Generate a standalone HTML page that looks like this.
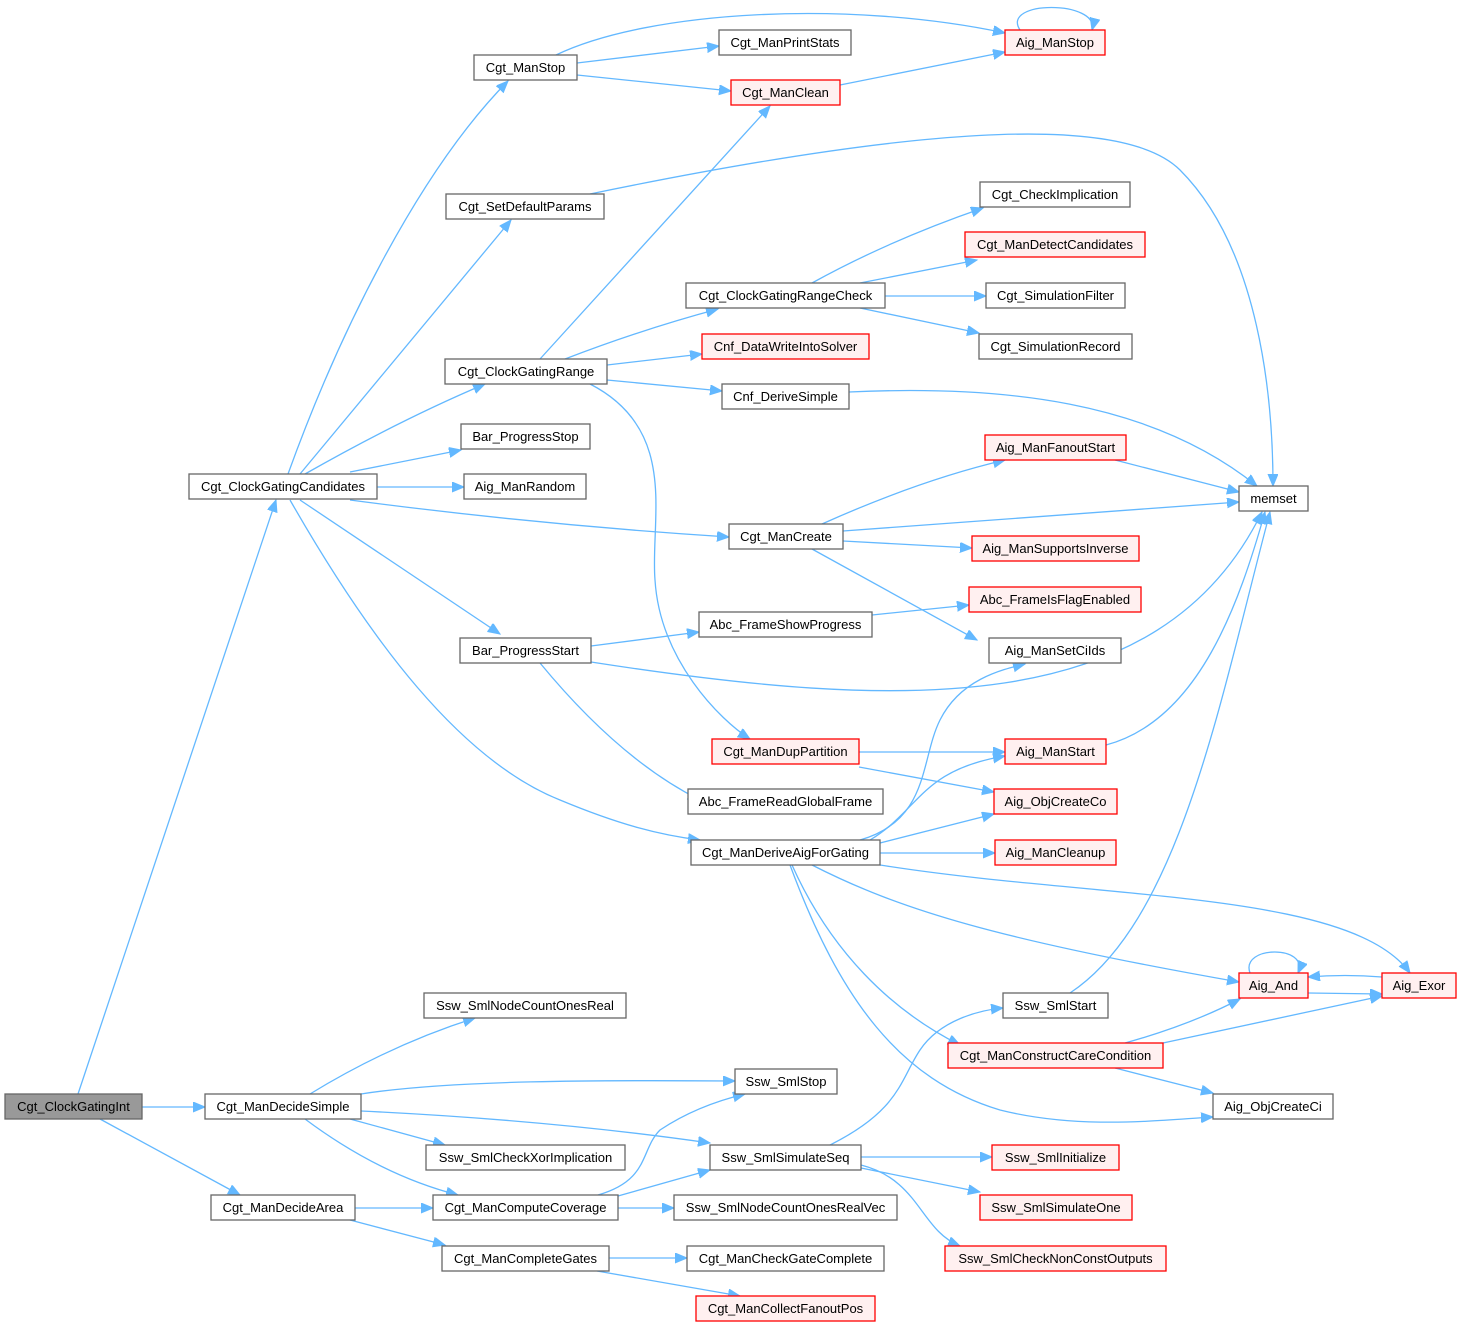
<!DOCTYPE html>
<html><head><meta charset="utf-8"><style>
html,body{margin:0;padding:0;background:#fff;}
svg{display:block;}
text{font-family:"Liberation Sans",Arial,sans-serif;font-size:13px;fill:#000;}
.n{fill:#fff;stroke:#666;stroke-width:1.3;}
.r{fill:#fff0f0;stroke:#f00;stroke-width:1.3;}
.g{fill:#999;stroke:#666;stroke-width:1.3;}
path{fill:none;stroke:#63b8ff;stroke-width:1.3;}
</style></head><body>
<svg width="1461" height="1328" viewBox="0 0 1461 1328" xmlns="http://www.w3.org/2000/svg">
<defs><marker id="a" markerUnits="userSpaceOnUse" markerWidth="14" markerHeight="12" refX="12" refY="5" orient="auto"><polygon points="0,0 12,5 0,10" fill="#63b8ff" stroke="#63b8ff"/></marker></defs>
<g marker-end="url(#a)">
<path d="M78,1094 L276,500"/>
<path d="M142,1107 L205,1107"/>
<path d="M100,1119 L240,1195"/>
<path d="M288,474 C340,330 420,170 508,81"/>
<path d="M300,474 L511,220"/>
<path d="M305,474 Q400,420 485,384"/>
<path d="M350,472 L461,450"/>
<path d="M377,487 L464,487"/>
<path d="M350,500 Q540,525 729,537"/>
<path d="M300,500 L500,634"/>
<path d="M290,500 C370,640 460,760 560,800 C620,825 660,835 700,840"/>
<path d="M556,55 C650,10 850,0 1005,33"/>
<path d="M577,63 L719,46"/>
<path d="M577,75 L731,91"/>
<path d="M840,85 L1005,52"/>
<path d="M1020,30 C1000,0 1100,0 1092,30"/>
<path d="M590,194 C900,130 1120,110 1180,170 C1260,250 1273,400 1273,486"/>
<path d="M540,359 L770,106"/>
<path d="M565,359 Q640,330 718,309"/>
<path d="M607,365 L702,354"/>
<path d="M607,380 L722,391"/>
<path d="M590,384 C680,430 650,520 655,580 C660,660 720,720 750,739"/>
<path d="M812,283 Q890,240 983,208"/>
<path d="M860,283 L977,260"/>
<path d="M885,296 L986,296"/>
<path d="M860,308 L979,333"/>
<path d="M849,392 C1000,385 1150,400 1257,486"/>
<path d="M1115,460 L1239,492"/>
<path d="M843,531 L1239,502"/>
<path d="M822,524 Q920,480 1005,460"/>
<path d="M843,541 L972,548"/>
<path d="M812,549 L977,640"/>
<path d="M591,646 L699,632"/>
<path d="M872,615 L969,605"/>
<path d="M591,662 C900,710 1160,720 1262,512"/>
<path d="M540,663 Q620,760 700,800"/>
<path d="M859,752 L1005,752"/>
<path d="M859,767 L994,792"/>
<path d="M1106,745 C1200,720 1240,600 1265,512"/>
<path d="M860,840 C930,820 920,760 940,720 C960,680 1000,670 1025,664"/>
<path d="M870,840 C920,810 920,770 1005,756"/>
<path d="M880,843 L994,814"/>
<path d="M880,853 L995,853"/>
<path d="M880,865 C1100,900 1350,890 1410,973"/>
<path d="M812,865 C900,910 1000,940 1239,982"/>
<path d="M792,865 C830,950 890,1010 960,1045"/>
<path d="M790,865 C840,1000 900,1080 1000,1110 C1080,1130 1160,1120 1213,1117"/>
<path d="M1125,1043 Q1190,1025 1240,999"/>
<path d="M1163,1043 L1382,996"/>
<path d="M1115,1068 L1213,1093"/>
<path d="M1308,993 L1382,994"/>
<path d="M1382,977 Q1345,974 1308,977"/>
<path d="M1250,973 C1240,945 1310,945 1298,973"/>
<path d="M1070,993 C1180,920 1220,700 1270,512"/>
<path d="M310,1094 Q390,1045 475,1018"/>
<path d="M361,1094 C450,1080 600,1080 735,1081"/>
<path d="M361,1111 Q550,1120 710,1143"/>
<path d="M350,1119 L445,1145"/>
<path d="M305,1119 Q380,1175 458,1195"/>
<path d="M355,1208 L433,1208"/>
<path d="M350,1220 L445,1245"/>
<path d="M598,1195 C650,1180 640,1150 660,1130 C690,1110 720,1100 745,1094"/>
<path d="M618,1196 L710,1170"/>
<path d="M618,1208 L674,1208"/>
<path d="M609,1258 L687,1258"/>
<path d="M597,1271 L740,1296"/>
<path d="M830,1145 C900,1110 900,1080 920,1050 C940,1020 980,1010 1003,1008"/>
<path d="M861,1157 L992,1157"/>
<path d="M861,1168 L980,1192"/>
<path d="M861,1165 C920,1180 920,1230 960,1246"/>
</g>
<g text-anchor="middle">
<rect class="g" x="5" y="1094" width="137" height="25"/><text x="73.5" y="1111">Cgt_ClockGatingInt</text>
<rect class="n" x="189" y="474" width="188" height="25"/><text x="283" y="491">Cgt_ClockGatingCandidates</text>
<rect class="n" x="205" y="1094" width="156" height="25"/><text x="283" y="1111">Cgt_ManDecideSimple</text>
<rect class="n" x="211" y="1195" width="144" height="25"/><text x="283" y="1212">Cgt_ManDecideArea</text>
<rect class="n" x="474" y="55" width="103" height="25"/><text x="525.5" y="72">Cgt_ManStop</text>
<rect class="n" x="446" y="194" width="158" height="25"/><text x="525" y="211">Cgt_SetDefaultParams</text>
<rect class="n" x="445" y="359" width="162" height="25"/><text x="526" y="376">Cgt_ClockGatingRange</text>
<rect class="n" x="461" y="424" width="129" height="25"/><text x="525.5" y="441">Bar_ProgressStop</text>
<rect class="n" x="464" y="474" width="122" height="25"/><text x="525" y="491">Aig_ManRandom</text>
<rect class="n" x="460" y="638" width="131" height="25"/><text x="525.5" y="655">Bar_ProgressStart</text>
<rect class="n" x="424" y="993" width="202" height="25"/><text x="525" y="1010">Ssw_SmlNodeCountOnesReal</text>
<rect class="n" x="426" y="1145" width="199" height="25"/><text x="525.5" y="1162">Ssw_SmlCheckXorImplication</text>
<rect class="n" x="433" y="1195" width="185" height="25"/><text x="525.5" y="1212">Cgt_ManComputeCoverage</text>
<rect class="n" x="442" y="1246" width="167" height="25"/><text x="525.5" y="1263">Cgt_ManCompleteGates</text>
<rect class="n" x="719" y="30" width="132" height="25"/><text x="785" y="47">Cgt_ManPrintStats</text>
<rect class="r" x="731" y="80" width="109" height="25"/><text x="785.5" y="97">Cgt_ManClean</text>
<rect class="n" x="686" y="283" width="199" height="25"/><text x="785.5" y="300">Cgt_ClockGatingRangeCheck</text>
<rect class="r" x="702" y="334" width="167" height="25"/><text x="785.5" y="351">Cnf_DataWriteIntoSolver</text>
<rect class="n" x="722" y="384" width="127" height="25"/><text x="785.5" y="401">Cnf_DeriveSimple</text>
<rect class="n" x="729" y="524" width="114" height="25"/><text x="786" y="541">Cgt_ManCreate</text>
<rect class="n" x="699" y="612" width="173" height="25"/><text x="785.5" y="629">Abc_FrameShowProgress</text>
<rect class="r" x="712" y="739" width="147" height="25"/><text x="785.5" y="756">Cgt_ManDupPartition</text>
<rect class="n" x="688" y="789" width="195" height="25"/><text x="785.5" y="806">Abc_FrameReadGlobalFrame</text>
<rect class="n" x="691" y="840" width="189" height="25"/><text x="785.5" y="857">Cgt_ManDeriveAigForGating</text>
<rect class="n" x="735" y="1069" width="102" height="25"/><text x="786" y="1086">Ssw_SmlStop</text>
<rect class="n" x="710" y="1145" width="151" height="25"/><text x="785.5" y="1162">Ssw_SmlSimulateSeq</text>
<rect class="n" x="674" y="1195" width="223" height="25"/><text x="785.5" y="1212">Ssw_SmlNodeCountOnesRealVec</text>
<rect class="n" x="687" y="1246" width="197" height="25"/><text x="785.5" y="1263">Cgt_ManCheckGateComplete</text>
<rect class="r" x="696" y="1296" width="179" height="25"/><text x="785.5" y="1313">Cgt_ManCollectFanoutPos</text>
<rect class="r" x="1005" y="30" width="100" height="25"/><text x="1055" y="47">Aig_ManStop</text>
<rect class="n" x="980" y="182" width="150" height="25"/><text x="1055" y="199">Cgt_CheckImplication</text>
<rect class="r" x="965" y="232" width="180" height="25"/><text x="1055" y="249">Cgt_ManDetectCandidates</text>
<rect class="n" x="986" y="283" width="139" height="25"/><text x="1055.5" y="300">Cgt_SimulationFilter</text>
<rect class="n" x="979" y="334" width="153" height="25"/><text x="1055.5" y="351">Cgt_SimulationRecord</text>
<rect class="r" x="985" y="435" width="141" height="25"/><text x="1055.5" y="452">Aig_ManFanoutStart</text>
<rect class="r" x="972" y="536" width="167" height="25"/><text x="1055.5" y="553">Aig_ManSupportsInverse</text>
<rect class="r" x="969" y="587" width="172" height="25"/><text x="1055" y="604">Abc_FrameIsFlagEnabled</text>
<rect class="n" x="989" y="638" width="132" height="25"/><text x="1055" y="655">Aig_ManSetCiIds</text>
<rect class="r" x="1005" y="739" width="101" height="25"/><text x="1055.5" y="756">Aig_ManStart</text>
<rect class="r" x="994" y="789" width="123" height="25"/><text x="1055.5" y="806">Aig_ObjCreateCo</text>
<rect class="r" x="995" y="840" width="121" height="25"/><text x="1055.5" y="857">Aig_ManCleanup</text>
<rect class="n" x="1003" y="993" width="105" height="25"/><text x="1055.5" y="1010">Ssw_SmlStart</text>
<rect class="r" x="948" y="1043" width="215" height="25"/><text x="1055.5" y="1060">Cgt_ManConstructCareCondition</text>
<rect class="r" x="992" y="1145" width="127" height="25"/><text x="1055.5" y="1162">Ssw_SmlInitialize</text>
<rect class="r" x="980" y="1195" width="152" height="25"/><text x="1056" y="1212">Ssw_SmlSimulateOne</text>
<rect class="r" x="945" y="1246" width="221" height="25"/><text x="1055.5" y="1263">Ssw_SmlCheckNonConstOutputs</text>
<rect class="n" x="1239" y="486" width="69" height="25"/><text x="1273.5" y="503">memset</text>
<rect class="r" x="1239" y="973" width="69" height="25"/><text x="1273.5" y="990">Aig_And</text>
<rect class="r" x="1382" y="973" width="74" height="25"/><text x="1419" y="990">Aig_Exor</text>
<rect class="n" x="1213" y="1094" width="120" height="25"/><text x="1273" y="1111">Aig_ObjCreateCi</text>
</g>
</svg>
</body></html>
